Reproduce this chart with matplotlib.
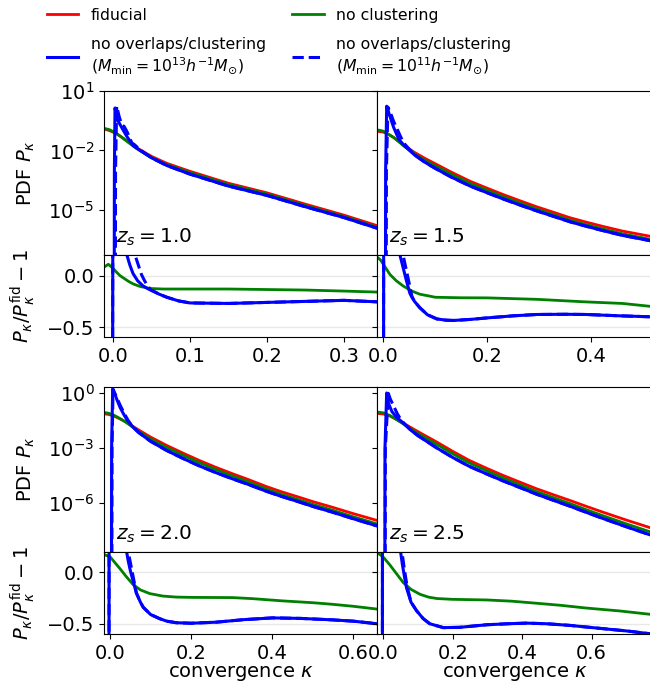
import matplotlib
matplotlib.use('Agg')
import matplotlib.pyplot as plt
import matplotlib.ticker as mticker
import numpy as np

plt.rcParams['font.family'] = ['DejaVu Sans']
plt.rcParams['font.size'] = 14
plt.rcParams['mathtext.fontset'] = 'dejavusans'

# ---- z_s = 1.0 : log10 PDF ----
k10 = [-0.012, -0.005, 0.0, 0.005, 0.01, 0.02, 0.03, 0.05, 0.07, 0.1, 0.15, 0.2, 0.25, 0.3, 0.345]
fid10 = [-0.92, -1.0, -1.08, -1.18, -1.3, -1.58, -1.85, -2.3, -2.65, -3.05, -3.65, -4.13, -4.7, -5.25, -5.8]
nocl10 = [-0.887, -0.955, -1.05, -1.167, -1.3, -1.6, -1.89, -2.36, -2.71, -3.11, -3.71, -4.19, -4.77, -5.32, -5.88]
blue_k10 = [-0.012, 0.0015, 0.0018, 0.0026, 0.0056, 0.012, 0.018, 0.026, 0.035, 0.05, 0.07, 0.1, 0.15, 0.2, 0.25, 0.3, 0.345]
blue10 = [-12, -12, -3, 0.13, -0.45, -0.9, -1.3, -1.75, -2.0, -2.37, -2.76, -3.19, -3.79, -4.26, -4.83, -5.37, -5.93]
dash_k10 = [-0.012, 0.003, 0.0033, 0.0048, 0.008, 0.0113, 0.0145, 0.0178, 0.021, 0.0243, 0.0275, 0.031, 0.04, 0.05, 0.07, 0.1, 0.15, 0.2, 0.25, 0.3, 0.345]
dash10 = [-12, -12, -3, 0.22, -0.3, -0.7, -0.8, -1.03, -1.3, -1.62, -1.7, -1.82, -2.1, -2.37, -2.76, -3.19, -3.79, -4.26, -4.83, -5.37, -5.93]

# ---- z_s = 1.0 : ratio to fiducial ----
green_rk10 = [-0.012, -0.006, 0.0, 0.005, 0.009, 0.015, 0.02, 0.026, 0.035, 0.048, 0.065, 0.087, 0.1, 0.15, 0.2, 0.25, 0.3, 0.345]
green_r10 = [0.08, 0.11, 0.07, 0.03, 0.0, -0.03, -0.055, -0.08, -0.105, -0.125, -0.13, -0.13, -0.13, -0.13, -0.135, -0.14, -0.15, -0.16]
blue_rk10 = [-0.012, -0.0005, 0.0, 0.003, 0.012, 0.018, 0.022, 0.026, 0.032, 0.039, 0.046, 0.052, 0.06, 0.07, 0.085, 0.1, 0.15, 0.2, 0.25, 0.3, 0.345]
blue_r10 = [-1, -1, 2.0, 5.0, 1.0, 0.2, 0.1, 0.02, -0.05, -0.1, -0.13, -0.15, -0.18, -0.21, -0.245, -0.265, -0.27, -0.26, -0.25, -0.24, -0.255]
dash_rk10 = [-0.012, -0.0005, 0.0, 0.003, 0.02, 0.0286, 0.033, 0.037, 0.041, 0.045, 0.05, 0.052, 0.06, 0.07, 0.085, 0.1, 0.15, 0.2, 0.25, 0.3, 0.345]
dash_r10 = [-1, -1, 2.0, 5.0, 1.5, 0.2, 0.1, 0.01, -0.05, -0.1, -0.145, -0.15, -0.18, -0.21, -0.245, -0.265, -0.27, -0.26, -0.25, -0.24, -0.255]

# ---- z_s = 1.5 : log10 PDF ----
k15 = [-0.012, -0.005, 0.0, 0.01, 0.02, 0.03, 0.04, 0.06, 0.08, 0.1, 0.13, 0.167, 0.2, 0.231, 0.263, 0.295, 0.33, 0.359, 0.39, 0.423, 0.46, 0.517]
fid15 = [-1.04, -1.06, -1.08, -1.2, -1.35, -1.55, -1.75, -2.1, -2.4, -2.67, -3.08, -3.55, -3.9, -4.22, -4.53, -4.83, -5.13, -5.38, -5.6, -5.82, -6.05, -6.33]
nocl15 = [-0.968, -1.0, -1.035, -1.187, -1.354, -1.57, -1.79, -2.176, -2.494, -2.772, -3.185, -3.655, -4.005, -4.328, -4.641, -4.944, -5.249, -5.502, -5.728, -5.951, -6.187, -6.485]
blue_k15 = [-0.012, 0.004, 0.0045, 0.0065, 0.011, 0.02, 0.03, 0.04, 0.06, 0.08, 0.1, 0.13, 0.167, 0.2, 0.231, 0.263, 0.295, 0.33, 0.359, 0.39, 0.423, 0.46, 0.517]
blue15 = [-12, -12, -3, 0.22, -0.15, -0.85, -1.45, -1.75, -2.225, -2.594, -2.903, -3.328, -3.79, -4.129, -4.442, -4.745, -5.036, -5.334, -5.584, -5.806, -6.031, -6.266, -6.552]
dash_k15 = [-0.012, 0.0055, 0.006, 0.009, 0.015, 0.02, 0.027, 0.034, 0.04, 0.06, 0.08, 0.1, 0.13, 0.167, 0.2, 0.231, 0.263, 0.295, 0.33, 0.359, 0.39, 0.423, 0.46, 0.517]
dash15 = [-12, -12, -3, 0.17, -0.2, -0.55, -0.95, -1.35, -1.65, -2.225, -2.594, -2.903, -3.328, -3.79, -4.129, -4.442, -4.745, -5.036, -5.334, -5.584, -5.806, -6.031, -6.266, -6.552]

# ---- z_s = 1.5 : ratio ----
green_rk15 = [-0.012, -0.005, 0.0, 0.013, 0.025, 0.038, 0.055, 0.07, 0.1, 0.15, 0.2, 0.295, 0.39, 0.46, 0.517]
green_r15 = [0.18, 0.15, 0.11, 0.01, -0.05, -0.1, -0.15, -0.18, -0.21, -0.215, -0.216, -0.23, -0.255, -0.27, -0.3]
blue_rk15 = [-0.012, 0.0005, 0.001, 0.004, 0.025, 0.032, 0.038, 0.044, 0.051, 0.055, 0.06, 0.07, 0.085, 0.103, 0.12, 0.135, 0.167, 0.2, 0.25, 0.295, 0.35, 0.39, 0.455, 0.517]
blue_r15 = [-1, -1, 2.0, 5.0, 1.0, 0.2, 0.08, -0.04, -0.17, -0.21, -0.25, -0.31, -0.38, -0.42, -0.432, -0.435, -0.425, -0.41, -0.39, -0.377, -0.375, -0.377, -0.39, -0.4]
dash_rk15 = [-0.012, 0.0005, 0.001, 0.004, 0.03, 0.038, 0.044, 0.05, 0.055, 0.06, 0.07, 0.085, 0.103, 0.12, 0.135, 0.167, 0.2, 0.25, 0.295, 0.35, 0.39, 0.455, 0.517]
dash_r15 = [-1, -1, 2.0, 5.0, 1.0, 0.2, 0.06, -0.08, -0.2, -0.25, -0.31, -0.38, -0.42, -0.432, -0.435, -0.425, -0.41, -0.39, -0.377, -0.375, -0.377, -0.39, -0.4]

# ---- z_s = 2.0 : log10 PDF ----
k20 = [-0.015, -0.005, 0.0, 0.01, 0.02, 0.03, 0.04, 0.05, 0.07, 0.1, 0.139, 0.18, 0.22, 0.26, 0.302, 0.34, 0.384, 0.42, 0.465, 0.5, 0.547, 0.6, 0.658]
fid20 = [-1.12, -1.15, -1.18, -1.25, -1.35, -1.46, -1.58, -1.72, -2.0, -2.4, -2.85, -3.28, -3.68, -4.05, -4.41, -4.72, -5.1, -5.38, -5.69, -5.94, -6.24, -6.6, -6.97]
nocl20 = [-1.05, -1.084, -1.118, -1.205, -1.325, -1.456, -1.598, -1.759, -2.076, -2.5, -2.965, -3.4, -3.801, -4.172, -4.532, -4.847, -5.234, -5.52, -5.839, -6.092, -6.401, -6.774, -7.162]
blue_k20 = [-0.015, 0.0035, 0.004, 0.0065, 0.012, 0.018, 0.025, 0.035, 0.045, 0.057, 0.07, 0.1, 0.139, 0.18, 0.22, 0.26, 0.302, 0.34, 0.384, 0.42, 0.465, 0.5, 0.547, 0.6, 0.658]
blue20 = [-12, -12, -3, 0.25, -0.05, -0.4, -0.78, -1.2, -1.55, -1.86, -2.137, -2.629, -3.126, -3.572, -3.977, -4.34, -4.69, -4.988, -5.36, -5.634, -5.948, -6.202, -6.509, -6.88, -7.271]
dash_k20 = [-0.015, 0.0045, 0.005, 0.0075, 0.012, 0.018, 0.025, 0.035, 0.045, 0.05, 0.057, 0.07, 0.1, 0.139, 0.18, 0.22, 0.26, 0.302, 0.34, 0.384, 0.42, 0.465, 0.5, 0.547, 0.6, 0.658]
dash20 = [-12, -12, -3, 0.22, 0.0, -0.3, -0.65, -1.1, -1.5, -1.65, -1.84, -2.137, -2.629, -3.126, -3.572, -3.977, -4.34, -4.69, -4.988, -5.36, -5.634, -5.948, -6.202, -6.509, -6.88, -7.271]

# ---- z_s = 2.0 : ratio ----
green_rk20 = [-0.015, 0.0, 0.024, 0.04, 0.057, 0.075, 0.098, 0.13, 0.163, 0.2, 0.302, 0.35, 0.425, 0.5, 0.547, 0.6, 0.658]
green_r20 = [0.176, 0.153, 0.04, -0.04, -0.118, -0.17, -0.206, -0.23, -0.24, -0.243, -0.245, -0.255, -0.277, -0.295, -0.31, -0.33, -0.357]
blue_rk20 = [-0.015, -0.0025, -0.002, 0.002, 0.03, 0.041, 0.045, 0.05, 0.057, 0.065, 0.075, 0.082, 0.1, 0.122, 0.14, 0.163, 0.2, 0.261, 0.33, 0.4, 0.47, 0.547, 0.6, 0.658]
blue_r20 = [-1, -1, 2.0, 5.0, 1.0, 0.2, 0.11, 0.02, -0.086, -0.2, -0.29, -0.34, -0.41, -0.45, -0.475, -0.49, -0.495, -0.485, -0.46, -0.443, -0.448, -0.462, -0.475, -0.5]
dash_rk20 = [-0.015, -0.0025, -0.002, 0.002, 0.035, 0.045, 0.05, 0.055, 0.06, 0.065, 0.075, 0.082, 0.1, 0.122, 0.14, 0.163, 0.2, 0.261, 0.33, 0.4, 0.47, 0.547, 0.6, 0.658]
dash_r20 = [-1, -1, 2.0, 5.0, 1.0, 0.2, 0.1, 0.0, -0.1, -0.2, -0.29, -0.34, -0.41, -0.45, -0.475, -0.49, -0.495, -0.485, -0.46, -0.443, -0.448, -0.462, -0.475, -0.5]

# ---- z_s = 2.5 : log10 PDF ----
k25 = [-0.018, 0.0, 0.02, 0.04, 0.062, 0.08, 0.1, 0.154, 0.2, 0.248, 0.3, 0.345, 0.4, 0.441, 0.49, 0.537, 0.585, 0.633, 0.7, 0.774]
fid25 = [-1.1, -1.13, -1.25, -1.45, -1.68, -1.88, -2.1, -2.67, -3.18, -3.68, -4.13, -4.5, -4.92, -5.23, -5.56, -5.87, -6.2, -6.52, -6.95, -7.4]
nocl25 = [-1.025, -1.069, -1.221, -1.459, -1.731, -1.958, -2.197, -2.797, -3.312, -3.814, -4.266, -4.64, -5.066, -5.385, -5.721, -6.041, -6.385, -6.714, -7.158, -7.629]
blue_k25 = [-0.018, 0.0045, 0.005, 0.0098, 0.015, 0.025, 0.04, 0.05, 0.062, 0.08, 0.1, 0.154, 0.2, 0.248, 0.3, 0.345, 0.4, 0.441, 0.49, 0.537, 0.585, 0.633, 0.7, 0.774]
blue25 = [-12, -12, -3, 0.02, -0.55, -1.0, -1.35, -1.5, -1.707, -2.029, -2.322, -2.993, -3.515, -4.005, -4.44, -4.801, -5.216, -5.528, -5.865, -6.185, -6.528, -6.865, -7.317, -7.798]
dash_k25 = [-0.018, 0.0055, 0.006, 0.0146, 0.02, 0.03, 0.04, 0.05, 0.062, 0.08, 0.1, 0.154, 0.2, 0.248, 0.3, 0.345, 0.4, 0.441, 0.49, 0.537, 0.585, 0.633, 0.7, 0.774]
dash25 = [-12, -12, -3, 0.0, -0.3, -0.7, -1.1, -1.42, -1.69, -2.029, -2.322, -2.993, -3.515, -4.005, -4.44, -4.801, -5.216, -5.528, -5.865, -6.185, -6.528, -6.865, -7.317, -7.798]

# ---- z_s = 2.5 : ratio ----
green_rk25 = [-0.018, -0.01, 0.0, 0.019, 0.04, 0.058, 0.08, 0.106, 0.13, 0.154, 0.2, 0.298, 0.37, 0.441, 0.51, 0.585, 0.68, 0.774]
green_r25 = [0.19, 0.176, 0.15, 0.074, -0.02, -0.1, -0.165, -0.213, -0.24, -0.254, -0.262, -0.268, -0.28, -0.3, -0.32, -0.347, -0.375, -0.41]
blue_rk25 = [-0.018, -0.0025, -0.002, 0.002, 0.04, 0.05, 0.055, 0.06, 0.067, 0.08, 0.096, 0.115, 0.134, 0.173, 0.22, 0.298, 0.36, 0.413, 0.47, 0.537, 0.633, 0.7, 0.774]
blue_r25 = [-1, -1, 2.0, 5.0, 1.0, 0.2, 0.08, -0.02, -0.15, -0.29, -0.373, -0.45, -0.5, -0.538, -0.535, -0.51, -0.5, -0.494, -0.5, -0.516, -0.548, -0.57, -0.6]
dash_rk25 = [-0.018, -0.0025, -0.002, 0.002, 0.045, 0.054, 0.06, 0.067, 0.072, 0.08, 0.096, 0.115, 0.134, 0.173, 0.22, 0.298, 0.36, 0.413, 0.47, 0.537, 0.633, 0.7, 0.774]
dash_r25 = [-1, -1, 2.0, 5.0, 1.0, 0.2, 0.05, -0.1, -0.18, -0.29, -0.373, -0.45, -0.5, -0.538, -0.535, -0.51, -0.5, -0.494, -0.5, -0.516, -0.548, -0.57, -0.6]

source_z = ['1.0', '1.5', '2.0', '2.5']
labels = ['fiducial', 'no clustering',
          'no overlaps/clustering\n($M_{\\rm min}=10^{13}h^{-1}M_{\\odot}$)',
          'no overlaps/clustering\n($M_{\\rm min}=10^{11}h^{-1}M_{\\odot}$)']


def draw_pdf(ax, pdf):
    k, fid, nocl, bk, blue, dk, dash = pdf
    lf, = ax.plot(k, 10**np.array(fid), color='red', lw=2)
    ln, = ax.plot(k, 10**np.array(nocl), color='green', lw=2)
    lb, = ax.plot(bk, 10**np.array(blue), color='blue', lw=2.2)
    ld, = ax.plot(dk, 10**np.array(dash), color='blue', lw=2.2, ls='--')
    ax.set_yscale('log')
    ax.tick_params(axis='x', bottom=False, labelbottom=False)
    return [lf, ln, lb, ld]


def draw_ratio(ax, rat):
    gk, gr, bk, br, dk, dr = rat
    ax.plot(gk, gr, color='green', lw=2)
    ax.plot(bk, br, color='blue', lw=2.2)
    ax.plot(dk, dr, color='blue', lw=2.2, ls='--')
    ax.set_ylim(-0.6, 0.2)
    ax.yaxis.set_major_locator(mticker.MultipleLocator(0.5))
    ax.grid(axis='y', color='#e8e8e8', lw=1)
    ax.set_axisbelow(True)


fig = plt.figure(figsize=(6.5, 6.91), dpi=100)

# axes rectangles (figure fraction)
col_x = [0.16, 0.58]
col_w = [0.42, 0.4231]
pdf_rows = [(0.631, 0.2378), (0.2012, 0.2388)]
rat_rows = [(0.5116, 0.1194), (0.0825, 0.1187)]

pdf_data = [(k10, fid10, nocl10, blue_k10, blue10, dash_k10, dash10),
            (k15, fid15, nocl15, blue_k15, blue15, dash_k15, dash15),
            (k20, fid20, nocl20, blue_k20, blue20, dash_k20, dash20),
            (k25, fid25, nocl25, blue_k25, blue25, dash_k25, dash25)]
rat_data = [(green_rk10, green_r10, blue_rk10, blue_r10, dash_rk10, dash_r10),
            (green_rk15, green_r15, blue_rk15, blue_r15, dash_rk15, dash_r15),
            (green_rk20, green_r20, blue_rk20, blue_r20, dash_rk20, dash_r20),
            (green_rk25, green_r25, blue_rk25, blue_r25, dash_rk25, dash_r25)]
xlims = [(-0.0117, 0.343), (-0.0121, 0.5167), (-0.0148, 0.658), (-0.018, 0.774)]
ylims_pdf = [(10**-7.25, 10**1.0), (10**-8.7, 10**0.35)]
yticks_pdf = [[1e1, 1e-2, 1e-5], [1e0, 1e-3, 1e-6]]
xstep = [0.1, 0.2, 0.2, 0.2]

handles = None
for i in range(4):
    row, col = divmod(i, 2)
    ax_p = fig.add_axes([col_x[col], pdf_rows[row][0], col_w[col], pdf_rows[row][1]])
    ax_r = fig.add_axes([col_x[col], rat_rows[row][0], col_w[col], rat_rows[row][1]])

    lines = draw_pdf(ax_p, pdf_data[i])
    if handles is None:
        handles = lines
    draw_ratio(ax_r, rat_data[i])

    ax_p.set_xlim(xlims[i])
    ax_r.set_xlim(xlims[i])
    ax_p.set_ylim(ylims_pdf[row])
    ax_p.yaxis.set_major_locator(mticker.FixedLocator(yticks_pdf[row]))
    ax_p.yaxis.set_minor_locator(mticker.NullLocator())
    ax_r.xaxis.set_major_locator(mticker.MultipleLocator(xstep[i]))

    ax_p.text(0.045, 0.045, '$z_s = %s$' % source_z[i], transform=ax_p.transAxes,
              fontsize=14.5, ha='left', va='bottom')

    if col == 0:
        ax_p.set_ylabel(r'PDF $P_\kappa$')
        ax_r.set_ylabel(r'$P_\kappa/P_\kappa^{\rm fid} - 1$')
        ax_p.yaxis.set_label_coords(-0.245, 0.5)
        ax_r.yaxis.set_label_coords(-0.245, 0.5)
    else:
        ax_p.tick_params(axis='y', labelleft=False)
        ax_r.tick_params(axis='y', labelleft=False)
    if row == 1:
        ax_r.set_xlabel(r'convergence $\kappa$', labelpad=1)

# legend, filled column-wise: (fiducial, blue solid) | (no clustering, blue dashed)
order = [0, 2, 1, 3]
fig.legend([handles[j] for j in order], [labels[j] for j in order], ncol=2,
           loc='upper left', bbox_to_anchor=(0.05, 1.009), frameon=False,
           fontsize=11.3, columnspacing=1.7, handlelength=2.0, labelspacing=0.9)

fig.savefig('out.png', dpi=100)
